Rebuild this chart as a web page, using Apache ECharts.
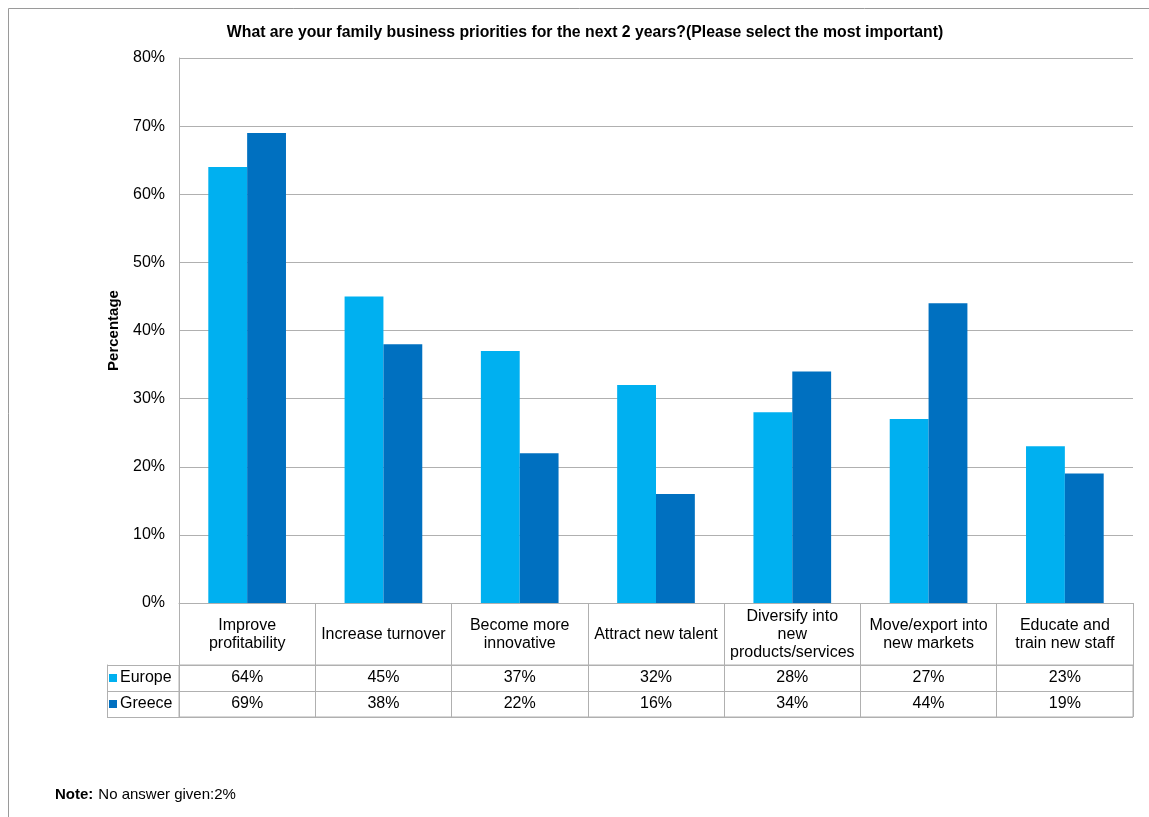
<!DOCTYPE html>
<html>
<head>
<meta charset="utf-8">
<script src="https://cdn.jsdelivr.net/npm/echarts@6/dist/echarts.min.js"></script>
<style>
  html, body { margin: 0; padding: 0; background: #fff; }
  #chart { width: 1149px; height: 817px; }
</style>
</head>
<body>
<div id="chart"></div>
<script>
// Survey answers: business priorities for the next two years
var categories = [
  'Improve\nprofitability',
  'Increase turnover',
  'Become more\ninnovative',
  'Attract new talent',
  'Diversify into\nnew\nproducts/services',
  'Move/export into\nnew markets',
  'Educate and\ntrain new staff'
];
var seriesNames = ['Europe', 'Greece'];
var europe = [64, 45, 37, 32, 28, 27, 23];
var greece = [69, 38, 22, 16, 34, 44, 19];
var yTicks = { min: 0, max: 80, interval: 10 };

var colors = { Europe: '#00b0f0', Greece: '#0070c0' };
var lineColor = '#b0b0b0';
var font = '"Liberation Sans", Arial, sans-serif';

// Cells of the data table underneath the plot
var tableCells = [];
[europe, greece].forEach(function (vals, r) {
  vals.forEach(function (v, i) {
    tableCells.push({ value: [i, seriesNames[r]], pct: v });
  });
});

var chart = echarts.init(document.getElementById('chart'));
chart.setOption({
  backgroundColor: '#fff',
  textStyle: { fontFamily: font },
  animation: false,
  title: [
    {
      text: 'What are your family business priorities for the next 2 years?(Please select the most important)',
      left: 580, top: 20, textAlign: 'center',
      textStyle: { fontSize: 15.8, fontWeight: 'bold', color: '#000', fontFamily: font }
    },
    {
      text: '{b|Note:} {n|No answer given:2%}',
      left: 50, top: 781,
      textStyle: {
        fontFamily: font, fontWeight: 'normal',
        rich: {
          b: { fontSize: 15, fontWeight: 'bold', color: '#000', fontFamily: font },
          n: { fontSize: 15, fontWeight: 'normal', color: '#000', fontFamily: font }
        }
      }
    }
  ],
  graphic: [
    {
      type: 'rect', silent: true, z: -1,
      shape: { x: 8.5, y: 8.5, width: 1300, height: 1000 },
      style: { fill: 'none', stroke: '#9a9a9a', lineWidth: 1 }
    }
  ],
  grid: [
    { left: 179, right: 16, top: 58, bottom: 214 },
    { left: 179, right: 16, top: 665, bottom: 100, show: true, borderColor: lineColor, borderWidth: 1, backgroundColor: 'transparent' }
  ],
  xAxis: [
    {
      type: 'category', gridIndex: 0, data: categories,
      axisLine: { show: true, lineStyle: { color: lineColor } },
      axisTick: { show: true, length: 62, interval: 0, lineStyle: { color: lineColor } },
      axisLabel: {
        interval: 0, margin: 32, fontSize: 16, color: '#000', lineHeight: 18,
        verticalAlign: 'middle', fontFamily: font
      }
    },
    {
      type: 'category', gridIndex: 1, data: categories,
      axisLine: { show: false }, axisTick: { show: false }, axisLabel: { show: false },
      splitLine: { show: true, interval: 0, lineStyle: { color: lineColor } }
    }
  ],
  yAxis: [
    {
      type: 'value', gridIndex: 0,
      min: yTicks.min, max: yTicks.max, interval: yTicks.interval,
      name: 'Percentage', nameLocation: 'middle', nameGap: 58,
      nameTextStyle: { fontSize: 15, fontWeight: 'bold', color: '#000', fontFamily: font },
      axisLine: { show: true, lineStyle: { color: lineColor } },
      axisTick: { show: false },
      axisLabel: { formatter: '{value}%', fontSize: 16, color: '#000', margin: 14, fontFamily: font },
      splitLine: { show: true, lineStyle: { color: lineColor } }
    },
    {
      type: 'category', gridIndex: 1, data: seriesNames, inverse: true,
      axisLine: { show: false },
      axisTick: { show: true, length: 72, interval: 0, lineStyle: { color: lineColor } },
      splitLine: { show: true, interval: 0, lineStyle: { color: lineColor } },
      axisLabel: {
        margin: 70, align: 'left', fontSize: 16, color: '#000', fontFamily: font,
        formatter: function (name) { return '{' + name + '|}{t|' + name + '}'; },
        rich: {
          Europe: { width: 8, height: 8, backgroundColor: colors.Europe },
          Greece: { width: 8, height: 8, backgroundColor: colors.Greece },
          t: { fontSize: 16, color: '#000', padding: [0, 0, 0, 3], fontFamily: font }
        }
      }
    },
    {
      type: 'category', gridIndex: 1, data: seriesNames, inverse: true,
      position: 'left', offset: 72,
      axisLine: { show: true, lineStyle: { color: lineColor } },
      axisTick: { show: false }, axisLabel: { show: false }, splitLine: { show: false }
    }
  ],
  series: [
    {
      name: 'Europe', type: 'bar', xAxisIndex: 0, yAxisIndex: 0,
      data: europe, barGap: '0%', barCategoryGap: '43%',
      itemStyle: { color: colors.Europe }
    },
    {
      name: 'Greece', type: 'bar', xAxisIndex: 0, yAxisIndex: 0,
      data: greece, barGap: '0%', barCategoryGap: '43%',
      itemStyle: { color: colors.Greece }
    },
    {
      type: 'scatter', xAxisIndex: 1, yAxisIndex: 1,
      symbolSize: 0, silent: true,
      itemStyle: { opacity: 1 },
      data: tableCells,
      label: {
        show: true, position: 'inside', fontSize: 16, color: '#000', fontFamily: font,
        formatter: function (p) { return p.data.pct + '%'; }
      }
    }
  ]
});
</script>
</body>
</html>
